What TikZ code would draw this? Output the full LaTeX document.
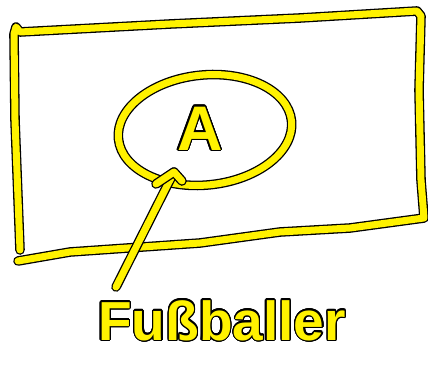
\documentclass[tikz,border=0pt]{standalone}
\usepackage{fontspec}
\setmainfont{Liberation Sans}
\usepackage{contour}
\usetikzlibrary{shapes.geometric}
\contourlength{1.3pt}
\contournumber{24}
\tikzset{
  pen/.style={draw=black, line width=1.3pt, double=yellow, double distance=7pt,
              line cap=round, line join=round},
  hand/.style={inner sep=0pt, font=#1},
}
\begin{document}
\begin{tikzpicture}[x=1pt, y=-1pt]
\useasboundingbox (0,0) rectangle (428,366);
% frame
\draw[pen] (20,250) -- (15,120) -- (14,34) -- (16,27) -- (20,32) -- (170,24) -- (300,18)
  -- (417,11) -- (421,16) -- (419,90) -- (421,180) -- (424,218) -- (350,228) -- (280,232)
  -- (200,243) -- (70,252) -- (18,261);
% ellipse with A
\node[pen, ellipse, minimum width=174pt, minimum height=110pt, rotate=6] (ell) at (205,130) {};
\node[hand={\bfseries\fontsize{63}{63}\selectfont}] (A) at (200,129) {\contour{black}{\textcolor{yellow}{A}}};
% label
\node[hand={\bfseries\fontsize{55}{55}\selectfont}, anchor=base] (fuss) at (222,340) {\contour{black}{\textcolor{yellow}{Fußballer}}};
% arrow
\coordinate (tail) at (116,287);
\coordinate (tip) at (174,172);
\draw[pen] (tail) -- (tip);
\draw[pen] (156,184) -- (tip) -- (182,181);
\end{tikzpicture}
\end{document}
